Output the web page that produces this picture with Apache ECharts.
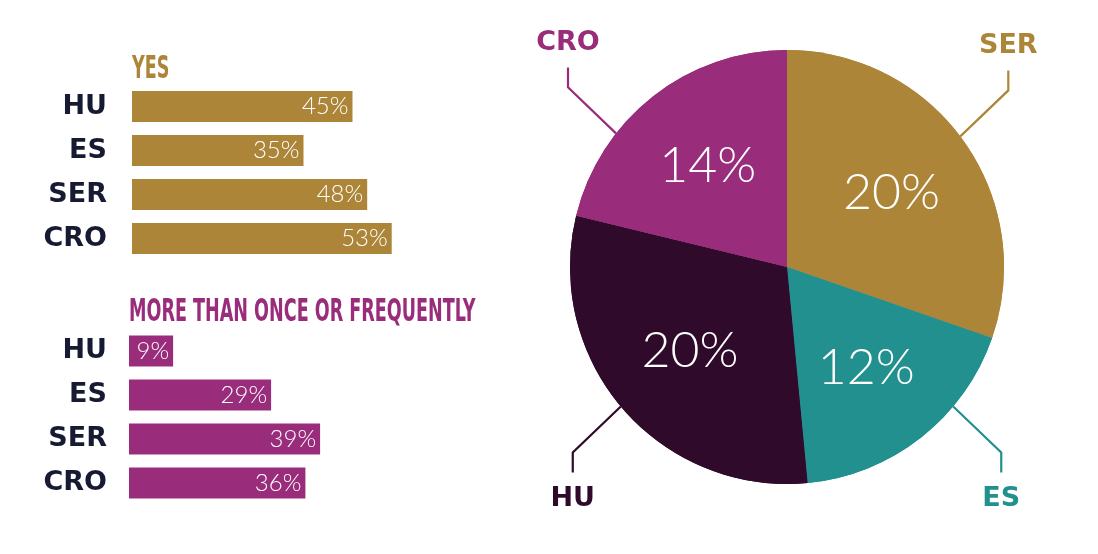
<!DOCTYPE html>
<html>
<head>
<meta charset="utf-8">
<script src="https://cdn.jsdelivr.net/npm/echarts@6/dist/echarts.min.js"></script>
<style>
html,body{margin:0;padding:0;background:#fff;}
#c{width:1098px;height:554px;}
</style>
</head>
<body>
<div id="c"></div>
<script>
// ---- data ----
const countries = ['HU', 'ES', 'SER', 'CRO'];
const yesValues = [45, 35, 48, 53];
const frequentValues = [9, 29, 39, 36];
const yesTitle = 'YES';
const frequentTitle = 'MORE THAN ONCE OR FREQUENTLY';
const pieNames = ['SER', 'ES', 'HU', 'CRO'];
const pieValues = [20, 12, 20, 14];

// ---- style ----
const GOLD = '#ad8538', PURPLE = '#992c7b', TEAL = '#21908f', DARK = '#2f0a2a', NAVY = '#171a33';
const pieColors = [GOLD, TEAL, DARK, PURPLE];
const CX = 787, CY = 267, R = 217;
const total = pieValues.reduce((a, b) => a + b, 0);

function midAngle(i) {
  let cum = 0;
  for (let k = 0; k < i; k++) cum += pieValues[k];
  return (cum + pieValues[i] / 2) / total * 360;
}

const chart = echarts.init(document.getElementById('c'), null, {renderer: 'canvas'});

const catLabel = {fontFamily: 'DejaVu Sans', fontWeight: 'bold', fontSize: 27, color: NAVY};
const barLabel = {show: true, position: 'insideRight', distance: 4, formatter: '{c}%', color: '#fff',
  fontFamily: 'Lato', fontWeight: 300, fontSize: 24};
const titleFont = 'bold 32px "Liberation Sans Narrow", "DejaVu Sans Condensed", sans-serif';

const pieData = pieNames.map((n, i) => ({name: n, value: pieValues[i], itemStyle: {color: pieColors[i]},
  label: {color: pieColors[i]}, labelLine: {lineStyle: {color: pieColors[i]}}}));

chart.setOption({
  animation: false,
  graphic: [
    {type: 'text', x: 132, y: 54, scaleX: 0.61, style: {text: yesTitle, fill: GOLD, font: titleFont}},
    {type: 'text', x: 129, y: 297, scaleX: 0.61, style: {text: frequentTitle, fill: PURPLE, font: titleFont}}
  ],
  grid: [
    {left: 132, top: 84.5, width: 490, height: 176},
    {left: 129, top: 329, width: 490, height: 176}
  ],
  xAxis: [
    {gridIndex: 0, type: 'value', min: 0, max: 100, show: false},
    {gridIndex: 1, type: 'value', min: 0, max: 100, show: false}
  ],
  yAxis: [
    {gridIndex: 0, type: 'category', data: countries, inverse: true,
      axisLine: {show: false}, axisTick: {show: false}, axisLabel: Object.assign({margin: 25}, catLabel)},
    {gridIndex: 1, type: 'category', data: countries, inverse: true,
      axisLine: {show: false}, axisTick: {show: false}, axisLabel: Object.assign({margin: 22}, catLabel)}
  ],
  series: [
    {type: 'bar', xAxisIndex: 0, yAxisIndex: 0, data: yesValues, barWidth: 31,
      itemStyle: {color: GOLD}, label: barLabel},
    {type: 'bar', xAxisIndex: 1, yAxisIndex: 1, data: frequentValues, barWidth: 31,
      itemStyle: {color: PURPLE}, label: barLabel},
    {type: 'pie', center: [CX, CY], radius: [0, R], startAngle: 90, clockwise: true,
      data: pieData, silent: true,
      label: {show: true, position: 'outside', formatter: '{b}', fontFamily: 'DejaVu Sans',
        fontWeight: 'bold', fontSize: 27},
      labelLine: {show: true, length: 20, length2: 20, lineStyle: {width: 2.2}},
      labelLayout: function (p) {
        const i = p.dataIndex;
        const m = midAngle(i);
        const sx = m < 180 ? 1 : -1;
        const sy = (m < 90 || m > 270) ? -1 : 1;
        const deg = sx > 0 ? (sy < 0 ? 53 : 130) : (sy > 0 ? 230 : 308);
        const a = deg * Math.PI / 180;
        const x0 = CX + R * Math.sin(a), y0 = CY - R * Math.cos(a);
        const x1 = x0 + sx * 48, y1 = y0 + sy * 46;
        const x2 = x1, y2 = y1 + sy * 20;
        return {x: x2, y: y2 + sy * (sy < 0 ? 24 : 26), align: 'center', verticalAlign: 'middle',
          labelLinePoints: [[x0, y0], [x1, y1], [x2, y2]]};
      }
    },
    {type: 'pie', center: [CX, CY], radius: [0, R], startAngle: 90, clockwise: true,
      data: pieData.map(d => ({name: d.name, value: d.value, itemStyle: d.itemStyle})),
      label: {show: true, position: 'inside', formatter: '{c}%', color: '#fff',
        fontFamily: 'Lato', fontWeight: 300, fontSize: 50},
      labelLine: {show: false},
      labelLayout: function (p) {
        const r = p.labelRect;
        const lx = r.x + r.width / 2, ly = r.y + r.height / 2;
        const f = 1.15;
        return {x: CX + (lx - CX) * f, y: CY + (ly - CY) * f, align: 'center', verticalAlign: 'middle'};
      }
    }
  ]
});
</script>
</body>
</html>
